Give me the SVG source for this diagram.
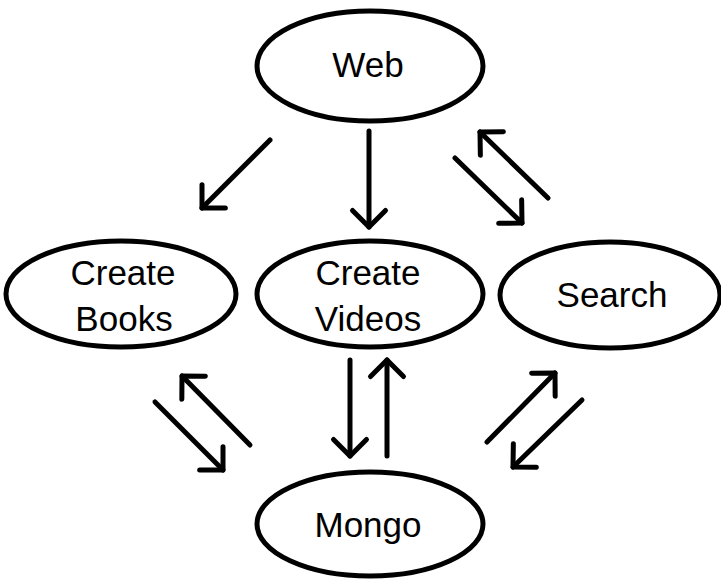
<svg xmlns="http://www.w3.org/2000/svg" width="721" height="579" viewBox="0 0 721 579">
<style>
.node ellipse{fill:#fff;stroke:#000;stroke-width:5}
.node text{font-family:"Liberation Sans",Arial,sans-serif;font-size:35px;fill:#000;text-anchor:middle}
.conn path{fill:none;stroke:#000;stroke-width:5;stroke-linecap:round;marker-end:url(#head)}
</style>
<defs>
<marker id="head" markerUnits="userSpaceOnUse" orient="auto" refX="0" refY="0" markerWidth="40" markerHeight="40" viewBox="-20 -20 40 40" overflow="visible">
<path d="M-16.5 -16.5 L0 0 L-16.5 16.5" fill="none" stroke="#000" stroke-width="5" stroke-linecap="round" stroke-linejoin="round"/>
</marker>
</defs>
<rect width="721" height="579" fill="#fff"/>
<g id="web" class="node"><ellipse cx="370" cy="66" rx="113" ry="55"/><text x="368" y="77">Web</text></g>
<g id="books" class="node"><ellipse cx="121" cy="294" rx="115" ry="53"/><text x="123" y="285">Create</text><text x="124" y="331">Books</text></g>
<g id="videos" class="node"><ellipse cx="370" cy="294" rx="113" ry="53"/><text x="368" y="285">Create</text><text x="368" y="331">Videos</text></g>
<g id="search" class="node"><ellipse cx="610" cy="295" rx="110" ry="53"/><text x="612" y="307">Search</text></g>
<g id="mongo" class="node"><ellipse cx="370" cy="524" rx="113" ry="52"/><text x="368" y="537">Mongo</text></g>
<g id="connectors" class="conn">
<path d="M270 140 L202 208"/>
<path d="M369 131 L369 227"/>
<path d="M455 158 L522 223"/>
<path d="M548 198 L480 132"/>
<path d="M155 402 L223 470"/>
<path d="M250 445 L182 376"/>
<path d="M350 360 L350 456"/>
<path d="M387 456 L387 360"/>
<path d="M487 442 L555 373"/>
<path d="M582 400 L513 467"/>
</g>
</svg>
